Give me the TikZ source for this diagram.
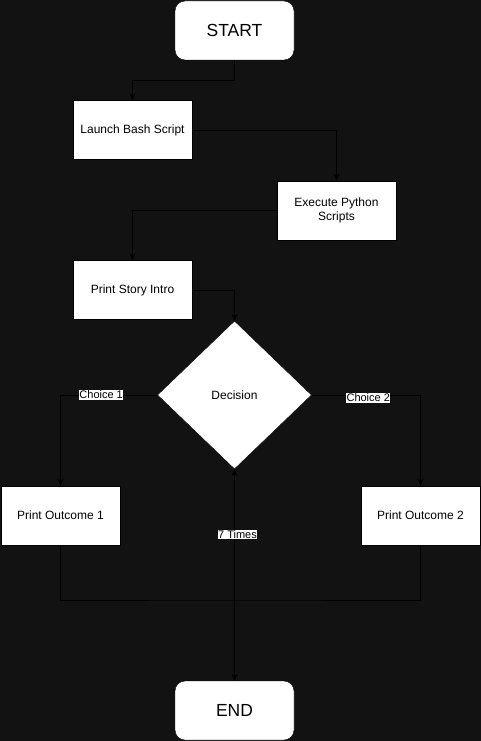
\documentclass[tikz,border=0pt]{standalone}
\usepackage{fontspec}
\setmainfont{Liberation Sans}
\usetikzlibrary{arrows.meta,shapes.geometric}
\definecolor{bg}{HTML}{121212}
\begin{document}
\begin{tikzpicture}[x=1pt,y=-1pt,
  box/.style={draw=black,fill=white,minimum width=119pt,minimum height=59pt,inner sep=0pt,align=center,font=\fontsize{12}{14}\selectfont},
  term/.style={box,rounded corners=10pt,font=\fontsize{17.5}{20}\selectfont},
  dec/.style={diamond,draw=black,fill=white,minimum width=154pt,minimum height=148pt,inner sep=0pt,aspect=1.04,font=\fontsize{12}{14}\selectfont},
  conn/.style={draw=black,line width=0.8pt,-{Stealth[length=7pt,width=6pt]}},
  lbl/.style={fill=white,inner sep=0.5pt,font=\fontsize{11}{12}\selectfont}]
\fill[bg] (0,0) rectangle (481,741);
\useasboundingbox (0,0) rectangle (481,741);
\node[term] (start) at (234.5,30.5) {START};
\node[box] (bash) at (132.5,130) {Launch Bash Script};
\node[box] (py) at (336.5,210.5) {Execute Python\\Scripts};
\node[box] (intro) at (132.5,290) {Print Story Intro};
\node[dec,minimum width=154pt,minimum height=148pt] (dec) at (234.5,395) {};
\node[font=\fontsize{12}{14}\selectfont] at (234.5,395) {Decision};
\node[box] (o1) at (60.5,515.5) {Print Outcome 1};
\node[box] (o2) at (420.5,515.5) {Print Outcome 2};
\node[term] (end) at (234.5,710.5) {END};
\coordinate (j) at (234.5,600);
\draw[conn] (start.south) |- (132.5,80) -- (bash.north);
\draw[conn] (bash.east) -| (py.north);
\draw[conn] (py.west) -| (intro.north);
\draw[conn] (intro.east) -| (dec.north);
\draw[conn] (dec.west) -| node[lbl,pos=0.29] {Choice 1} (o1.north);
\draw[conn] (dec.east) -| node[lbl,pos=0.26,yshift=-3pt] {Choice 2} (o2.north);
\draw[draw=black,line width=0.8pt] (o1.south) |- (j) -| (o2.south);
\draw[conn] (j) -- (end.north);
\draw[conn] (j) -- node[lbl,pos=0.5,xshift=3pt] {7 Times} (dec.south);
\end{tikzpicture}
\end{document}
